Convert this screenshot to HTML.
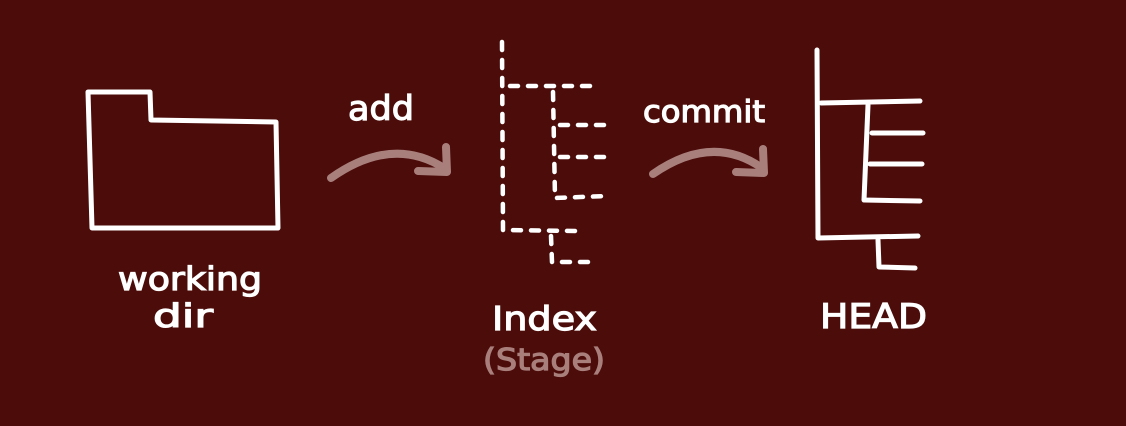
<!DOCTYPE html>
<html><head><meta charset="utf-8"><style>
html,body{margin:0;padding:0;background:#4b0c0a;}
svg{display:block}
</style></head><body>
<svg width="1126" height="426" viewBox="0 0 1126 426" xmlns="http://www.w3.org/2000/svg">
<rect width="1126" height="426" fill="#4b0c0a"/>
<g fill="none" stroke="#fff" stroke-width="5" stroke-linecap="round" stroke-linejoin="round">
<path d="M88,92 L150,92 L151,120 L276,122 L278,228 L92,228 Z"/>
<g stroke-dasharray="8,10" stroke-width="4.5">
<path d="M502,42 L503,230 L578,231"/>
<path d="M510,86 L600,86"/>
<path d="M553,92 L555,198 L607,196"/>
<path d="M560,125 L607,125"/>
<path d="M560,157 L605,157"/>
<path d="M551,236 L552,262 L590,262"/>
</g>
<path d="M817,50 L818,238 L918,236"/>
<path d="M821,103 L920,101"/>
<path d="M868,105 L864,200 L920,201"/>
<path d="M872,133 L923,133"/>
<path d="M870,164 L922,164"/>
<path d="M878,240 L879,267 L915,268"/>
</g>
<g fill="none" stroke="#a97f7c" stroke-width="8" stroke-linecap="round" stroke-linejoin="round">
<path d="M331,178 Q392,135 444,168"/>
<path d="M418,171 L447,172 L446,147"/>
<path d="M653,174 Q712,133 762,168"/>
<path d="M736,172 L764,173 L763,149"/>
</g>
<g font-family="DejaVu Sans, sans-serif" fill="#fff" stroke="#fff" stroke-width="1.2">
<text x="348" y="120" font-size="34" textLength="66" lengthAdjust="spacingAndGlyphs">add</text>
<text x="643" y="122" font-size="30" textLength="122" lengthAdjust="spacingAndGlyphs">commit</text>
<text x="118" y="290" font-size="32" textLength="144" lengthAdjust="spacingAndGlyphs">working</text>
<text x="153" y="327" font-size="32" textLength="60" lengthAdjust="spacingAndGlyphs">dir</text>
<text x="492" y="330" font-size="33" textLength="105" lengthAdjust="spacingAndGlyphs">Index</text>
<text x="820" y="328" font-size="34" textLength="107" lengthAdjust="spacingAndGlyphs">HEAD</text>
<text x="483" y="370" font-size="30" fill="#a97f7c" stroke="#a97f7c" textLength="122" lengthAdjust="spacingAndGlyphs">(Stage)</text>
</g>
</svg>
</body></html>
